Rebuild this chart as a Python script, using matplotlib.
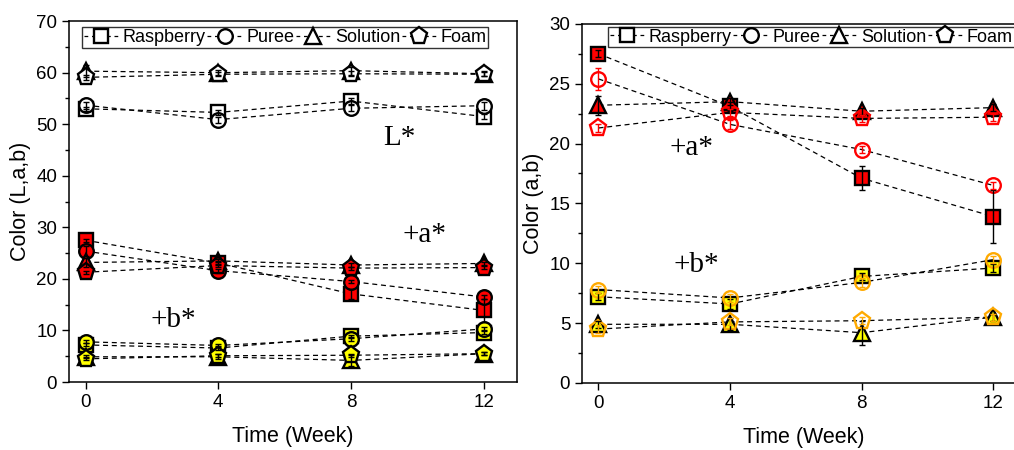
import numpy as np
import matplotlib
matplotlib.use('Agg')
import matplotlib.pyplot as plt
from matplotlib.lines import Line2D
from matplotlib.ticker import MultipleLocator

plt.rcParams['font.family'] = ['Liberation Sans', 'DejaVu Sans']

weeks = [0, 4, 8, 12]
samples = ['Raspberry', 'Puree', 'Solution', 'Foam']
markers = ['s', 'o', '^', 'p']
msizes = [10, 10.5, 12, 12.5]

# L* values and errors
L_rasp = [53.0, 52.3, 54.5, 51.5]
L_puree = [53.7, 50.9, 53.1, 53.6]
L_sol = [60.3, 60.0, 60.4, 59.8]
L_foam = [59.1, 59.7, 59.8, 59.7]
L_rasp_err = [0.4, 0.5, 0.6, 0.5]
L_puree_err = [0.7, 0.6, 0.6, 0.8]
L_sol_err = [1.2, 0.5, 0.8, 0.5]
L_foam_err = [0.5, 0.4, 0.5, 0.4]

# a* values and errors
a_rasp = [27.5, 23.1, 17.1, 13.9]
a_puree = [25.4, 21.6, 19.5, 16.5]
a_sol = [23.2, 23.5, 22.7, 23.0]
a_foam = [21.3, 22.6, 22.1, 22.2]
a_rasp_err = [0.3, 0.4, 1.0, 2.2]
a_puree_err = [0.9, 0.4, 0.3, 0.3]
a_sol_err = [0.8, 0.3, 0.3, 0.3]
a_foam_err = [0.3, 0.3, 0.3, 0.3]

# b* values and errors
b_rasp = [7.2, 6.6, 8.9, 9.6]
b_puree = [7.8, 7.1, 8.4, 10.3]
b_sol = [4.9, 4.9, 4.2, 5.5]
b_foam = [4.5, 5.1, 5.2, 5.5]
b_rasp_err = [0.3, 0.4, 0.3, 0.3]
b_puree_err = [0.3, 0.3, 0.4, 0.3]
b_sol_err = [0.3, 0.5, 1.0, 0.3]
b_foam_err = [0.3, 0.3, 0.3, 0.3]

red = '#FF0000'
yellow = '#FFFF00'
orange = '#FFAA00'

L_all = [(L_rasp, L_rasp_err), (L_puree, L_puree_err), (L_sol, L_sol_err), (L_foam, L_foam_err)]
a_all = [(a_rasp, a_rasp_err), (a_puree, a_puree_err), (a_sol, a_sol_err), (a_foam, a_foam_err)]
b_all = [(b_rasp, b_rasp_err), (b_puree, b_puree_err), (b_sol, b_sol_err), (b_foam, b_foam_err)]


def draw(ax, y, err, marker, ms, face, edge, ecol):
    ax.plot(weeks, y, ls=(0, (4, 3)), color='black', lw=0.9, zorder=2)
    ax.errorbar(weeks, y, yerr=err, fmt='none', ecolor=ecol, elinewidth=1.0,
                capsize=2.5, capthick=1.0, zorder=4)
    ax.plot(weeks, y, ls='none', marker=marker, ms=ms, mfc=face, mec=edge,
            mew=1.7, zorder=3)


def style(ax, ymax, major, minor):
    ax.set_xlim(-0.5, 13)
    ax.set_ylim(0, ymax)
    ax.set_xticks(weeks)
    ax.yaxis.set_major_locator(MultipleLocator(major))
    ax.yaxis.set_minor_locator(MultipleLocator(minor))
    ax.tick_params(which='both', direction='out', labelsize=13.5, width=1.0,
                   top=False, right=False)
    ax.tick_params(which='major', length=5)
    ax.tick_params(which='minor', length=3)
    for s in ax.spines.values():
        s.set_linewidth(1.1)
    ax.set_xlabel('Time (Week)', fontsize=15.5, labelpad=11)


def legend(ax, x, y):
    handles = [Line2D([0], [0], ls=(0, (3, 3)), color='black', lw=0.9,
                      marker=m, ms=s, mfc='white', mec='black', mew=1.7)
               for m, s in zip(markers, msizes)]
    leg = ax.legend(handles, samples, loc='upper left', bbox_to_anchor=(x, y),
                    ncol=4, fontsize=13, frameon=True, fancybox=False,
                    borderpad=0.1, borderaxespad=0, handlelength=1.9,
                    handletextpad=0.25, columnspacing=0.1)
    leg.get_frame().set_edgecolor('black')
    leg.get_frame().set_linewidth(1.0)
    leg.set_zorder(10)


fig = plt.figure(figsize=(10.14, 4.5), dpi=100)

# Left panel: L*, a*, b*
ax1 = fig.add_axes([0.068, 0.151, 0.4418, 0.802])
for (y, e), m, s in zip(L_all, markers, msizes):
    draw(ax1, y, e, m, s, 'white', 'black', 'black')
for (y, e), m, s in zip(a_all, markers, msizes):
    draw(ax1, y, e, m, s, red, 'black', 'black')
for (y, e), m, s in zip(b_all, markers, msizes):
    draw(ax1, y, e, m, s, yellow, 'black', 'black')
style(ax1, 70, 10, 5)
ax1.set_ylabel('Color (L,a,b)', fontsize=15.5)
legend(ax1, 0.029, 0.983)
ax1.text(9.45, 47.3, 'L*', family='Liberation Serif', fontsize=21, ha='center', va='center')
ax1.text(10.2, 28.5, '+a*', family='Liberation Serif', fontsize=21, ha='center', va='center')
ax1.text(2.65, 12.0, '+b*', family='Liberation Serif', fontsize=21, ha='center', va='center')

# Right panel: a* and b* only
ax2 = fig.add_axes([0.574, 0.149, 0.438, 0.798])
filled = [True, False, True, False]
for (y, e), m, s, f in zip(a_all, markers, msizes, filled):
    if f:
        draw(ax2, y, e, m, s, red, 'black', 'black')
    else:
        draw(ax2, y, e, m, s, 'none', red, red)
for (y, e), m, s, f in zip(b_all, markers, msizes, filled):
    if f:
        draw(ax2, y, e, m, s, yellow, 'black', 'black')
    else:
        draw(ax2, y, e, m, s, 'none', orange, orange)
style(ax2, 30, 5, 2.5)
ax2.set_ylabel('Color (a,b)', fontsize=15.5)
legend(ax2, 0.0586, 0.992)
ax2.text(2.83, 19.6, '+a*', family='Liberation Serif', fontsize=21, ha='center', va='center')
ax2.text(2.98, 9.86, '+b*', family='Liberation Serif', fontsize=21, ha='center', va='center')

fig.savefig('out.png', dpi=100)
